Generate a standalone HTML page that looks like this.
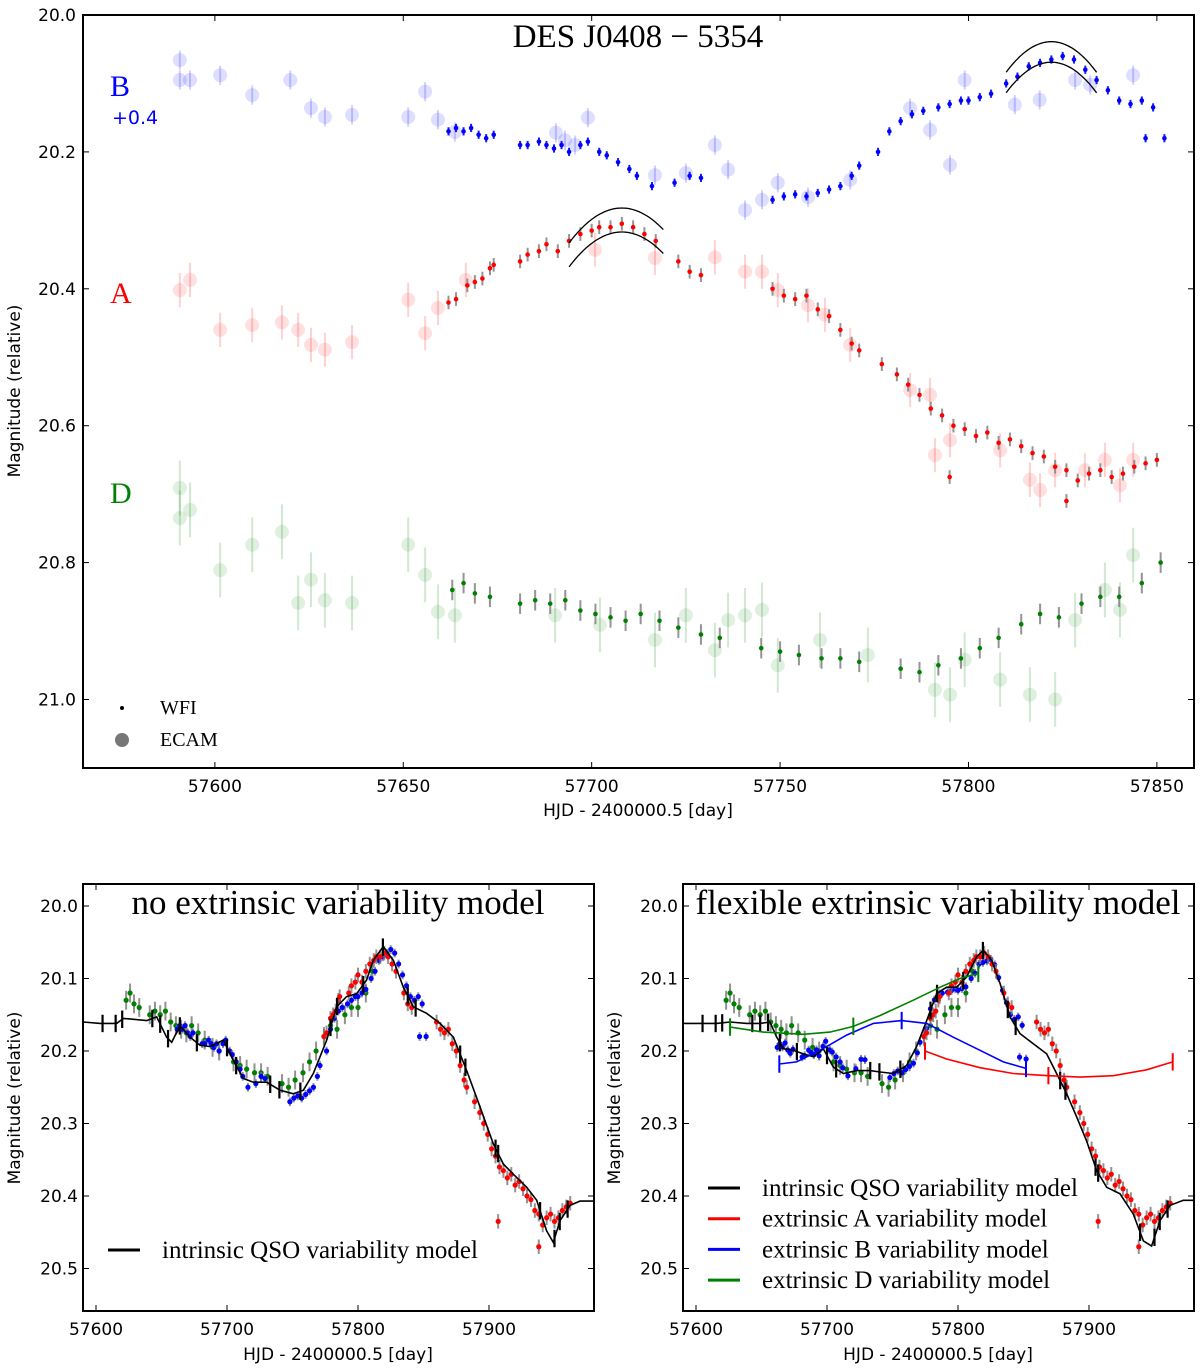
<!DOCTYPE html>
<html><head><meta charset="utf-8"><title>DES J0408-5354 light curves</title>
<style>
html,body{margin:0;padding:0;background:#fff;}
svg{display:block;}
.tk{font-family:"DejaVu Sans","Liberation Sans",sans-serif;font-size:17px;fill:#000;}
.sf{font-family:"Liberation Serif","DejaVu Serif",serif;fill:#000;}
</style></head>
<body>
<svg id="chart" width="1200" height="1369" viewBox="0 0 1200 1369" xmlns="http://www.w3.org/2000/svg">
<defs>
<clipPath id="clipTop"><rect x="83" y="15" width="1111" height="753"/></clipPath>
<clipPath id="clipL"><rect x="83" y="884" width="511" height="427"/></clipPath>
<clipPath id="clipR"><rect x="683" y="884" width="511" height="427"/></clipPath>
</defs>
<text class="sf" x="638" y="47" font-size="33" text-anchor="middle">DES J0408 − 5354</text>
<text class="sf" x="110" y="96" font-size="30" style="fill:#0000ff">B</text>
<text x="112" y="124" font-size="19" style="fill:#0000ff;font-family:'DejaVu Sans',sans-serif">+0.4</text>
<text class="sf" x="110" y="303" font-size="30" style="fill:#ff0000">A</text>
<text class="sf" x="110" y="503" font-size="30" style="fill:#008000">D</text>
<circle cx="122" cy="708" r="2" fill="#000"/>
<text class="sf" x="160" y="714" font-size="20">WFI</text>
<circle cx="122" cy="740" r="7" fill="#777"/>
<text class="sf" x="160" y="746" font-size="20">ECAM</text>
<text class="tk" font-size="18" transform="translate(20,391) rotate(-90)" text-anchor="middle">Magnitude (relative)</text>
<text class="tk" font-size="18" x="638" y="816" text-anchor="middle">HJD - 2400000.5 [day]</text>
<text class="sf" x="338" y="914" font-size="35" text-anchor="middle">no extrinsic variability model</text>
<text class="sf" x="938" y="914" font-size="35" text-anchor="middle">flexible extrinsic variability model</text>
<text class="tk" font-size="18" transform="translate(20,1098) rotate(-90)" text-anchor="middle">Magnitude (relative)</text>
<text class="tk" font-size="18" transform="translate(620,1098) rotate(-90)" text-anchor="middle">Magnitude (relative)</text>
<text class="tk" font-size="18" x="338" y="1360" text-anchor="middle">HJD - 2400000.5 [day]</text>
<text class="tk" font-size="18" x="938" y="1360" text-anchor="middle">HJD - 2400000.5 [day]</text>
</svg>
<script>
// ---------- TOP PANEL DATA ----------
const bWfi=[[57662,20.17],[57664,20.165],[57666,20.17],[57668,20.165],[57670,20.175],[57672,20.18],[57674,20.175],[57681,20.19],[57683,20.19],[57686,20.185],[57688,20.19],[57690,20.195],[57692,20.19],[57694,20.2],[57697,20.19],[57699,20.185],[57702,20.2],[57704,20.205],[57707,20.215],[57710,20.225],[57712,20.235],[57716,20.25],[57722,20.245],[57726,20.235],[57729,20.238],[57748,20.27],[57751,20.265],[57754,20.262],[57757,20.265],[57760,20.26],[57763,20.255],[57766,20.25],[57769,20.235],[57771,20.22],[57776,20.2],[57779,20.17],[57782,20.155],[57785,20.145],[57788,20.14],[57792,20.135],[57795,20.13],[57798,20.125],[57800,20.125],[57803,20.12],[57806,20.115],[57810,20.1],[57813,20.09],[57816,20.075],[57819,20.07],[57822,20.065],[57825,20.06],[57828,20.065],[57831,20.08],[57834,20.095],[57837,20.11],[57840,20.125],[57843,20.13],[57846,20.125],[57849,20.135],[57847,20.18],[57852,20.18]];
const aWfi=[[57662,20.42],[57664,20.415],[57667,20.395],[57669,20.39],[57671,20.385],[57673,20.37],[57674,20.365],[57681,20.36],[57683,20.35],[57686,20.345],[57688,20.335],[57691,20.345],[57694,20.33],[57697,20.32],[57700,20.315],[57702,20.31],[57705,20.31],[57708,20.305],[57711,20.31],[57714,20.32],[57717,20.33],[57723,20.36],[57726,20.375],[57729,20.38],[57748,20.4],[57751,20.41],[57754,20.415],[57757,20.41],[57760,20.43],[57763,20.44],[57766,20.46],[57769,20.48],[57771,20.49],[57777,20.51],[57781,20.525],[57784,20.54],[57787,20.555],[57790,20.575],[57793,20.585],[57796,20.6],[57799,20.605],[57802,20.615],[57805,20.61],[57808,20.625],[57811,20.62],[57814,20.63],[57817,20.64],[57820,20.645],[57823,20.66],[57826,20.665],[57829,20.68],[57832,20.67],[57835,20.665],[57838,20.675],[57841,20.67],[57844,20.66],[57847,20.655],[57850,20.65],[57795,20.675],[57826,20.71]];
const dWfi=[[57663,20.84],[57666,20.83],[57669,20.845],[57673,20.85],[57681,20.86],[57685,20.855],[57689,20.86],[57693,20.855],[57697,20.87],[57701,20.875],[57705,20.88],[57709,20.885],[57713,20.875],[57718,20.885],[57723,20.895],[57729,20.905],[57734,20.91],[57745,20.925],[57750,20.93],[57755,20.935],[57761,20.94],[57766,20.94],[57771,20.945],[57782,20.955],[57787,20.96],[57792,20.95],[57798,20.94],[57803,20.925],[57808,20.91],[57814,20.89],[57819,20.875],[57824,20.88],[57830,20.86],[57835,20.85],[57840,20.85],[57846,20.83],[57851,20.80]];
const bEcam=[[57590.7,20.066],[57590.7,20.095],[57593.4,20.095],[57601.4,20.088],[57609.9,20.117],[57620,20.095],[57625.5,20.136],[57629.2,20.149],[57636.4,20.146],[57651.3,20.149],[57655.8,20.112],[57659.2,20.153],[57663.7,20.171],[57690.5,20.172],[57692.9,20.183],[57695.6,20.19],[57699,20.15],[57716.8,20.234],[57725,20.231],[57732.7,20.19],[57736.2,20.226],[57740.7,20.285],[57745.2,20.27],[57749.4,20.245],[57757.4,20.266],[57768.6,20.241],[57784.5,20.136],[57789.8,20.168],[57795.1,20.219],[57799,20.095],[57812.3,20.131],[57818.9,20.124],[57828.3,20.095],[57832.3,20.102],[57843.7,20.088]];
const aEcam=[[57590.7,20.402],[57593.4,20.387],[57601.4,20.46],[57609.9,20.453],[57617.8,20.449],[57622.1,20.46],[57625.5,20.482],[57629.2,20.489],[57636.4,20.478],[57651.3,20.416],[57655.8,20.465],[57659.2,20.428],[57666.6,20.387],[57700.9,20.343],[57716.8,20.355],[57732.7,20.354],[57740.7,20.375],[57745.2,20.375],[57749.4,20.402],[57757.4,20.424],[57761.9,20.438],[57768.6,20.482],[57784.5,20.548],[57789.8,20.555],[57791.1,20.643],[57795.1,20.621],[57808.4,20.636],[57816.3,20.679],[57819,20.694],[57823,20.665],[57830.9,20.665],[57836.2,20.65],[57840.2,20.687],[57843.7,20.65]];
const dEcam=[[57590.7,20.691],[57590.7,20.735],[57593.4,20.723],[57601.4,20.811],[57609.9,20.774],[57617.8,20.755],[57622.1,20.859],[57625.5,20.825],[57629.2,20.855],[57636.4,20.859],[57651.3,20.774],[57655.8,20.818],[57659.2,20.872],[57663.7,20.877],[57690.3,20.877],[57702.2,20.891],[57716.8,20.913],[57725,20.877],[57732.7,20.928],[57736.2,20.884],[57740.7,20.877],[57745.2,20.869],[57749.4,20.95],[57760.6,20.913],[57773.3,20.935],[57791.1,20.986],[57795.1,20.993],[57799,20.942],[57808.4,20.971],[57816.3,20.993],[57823,21.0],[57828.3,20.884],[57836.2,20.84],[57840.2,20.869],[57843.7,20.789]];
// model arcs: [vertexDay, vertexMag, startDay, endDay, curvature]
const arcA=[[57708,20.282,57694,57719,0.00026],[57708,20.317,57694,57719,0.00026]];
const arcB=[[57822,20.039,57810,57834,0.00031],[57822,20.069,57810,57834,0.00031]];
const topXTicks=[57600,57650,57700,57750,57800,57850];
const topYTicks=[20.0,20.2,20.4,20.6,20.8,21.0];
// ---------- BOTTOM PANEL DATA ----------
const shiftA=[112,-0.24];
const shiftB=[0,0];
const shiftD=[-40,-0.71];
const refB=20.193;
const modelLeft=[[57590.3,20.160],[57603.1,20.162],[57615.8,20.162],[57620.9,20.155],[57638.7,20.158],[57646.3,20.153],[57653.9,20.181],[57657.8,20.188],[57664.1,20.165],[57671.8,20.181],[57679.4,20.192],[57687,20.194],[57697.2,20.185],[57704.8,20.213],[57712.5,20.238],[57720.1,20.243],[57730.3,20.243],[57740.5,20.254],[57750.6,20.259],[57758.3,20.254],[57765.9,20.231],[57776.1,20.185],[57783.7,20.139],[57791.3,20.125],[57799,20.121],[57806.6,20.102],[57811.7,20.075],[57819.3,20.056],[57827,20.075],[57834.6,20.112],[57842.2,20.139],[57852.4,20.148],[57862.6,20.162],[57872.8,20.181],[57883,20.227],[57893.1,20.277],[57903.3,20.328],[57911,20.356],[57918.6,20.370],[57928.8,20.388],[57936.4,20.406],[57944,20.448],[57949.1,20.464],[57954.2,20.434],[57961.8,20.413],[57969.5,20.407],[57979.6,20.407]];
const modelRight=[[57590.3,20.162],[57603.1,20.162],[57615.8,20.162],[57626,20.160],[57638.7,20.162],[57648.9,20.162],[57656.5,20.160],[57661.6,20.181],[57666.7,20.197],[57674.3,20.199],[57681.9,20.204],[57689.6,20.208],[57697.2,20.197],[57704.8,20.222],[57712.5,20.231],[57722.6,20.227],[57732.8,20.227],[57740.5,20.229],[57750.6,20.231],[57760.8,20.220],[57768.4,20.194],[57776.1,20.158],[57783.7,20.121],[57791.3,20.112],[57799,20.112],[57806.6,20.098],[57814.2,20.070],[57819.3,20.061],[57825.7,20.075],[57832.1,20.107],[57839.7,20.153],[57847.3,20.176],[57857.5,20.190],[57867.7,20.204],[57875.3,20.231],[57883,20.259],[57890.6,20.291],[57898.2,20.324],[57905.9,20.365],[57913.5,20.388],[57923.7,20.397],[57933.8,20.425],[57941.5,20.462],[57947.8,20.469],[57954.2,20.434],[57961.8,20.413],[57972,20.406],[57979.6,20.406]];
const modelTickDays=[57590,57605,57615,57620,57643,57649,57655,57664,57677,57700,57707,57733,57740,57756,57779,57784,57804,57819,57838,57844,57878,57882,57905,57907,57939,57950,57954,57960];
const extD=[[57626,20.167],[57651.4,20.174],[57681.9,20.177],[57702.3,20.174],[57720.1,20.166],[57740.5,20.151],[57765.9,20.130],[57786.3,20.112],[57801.5,20.100],[57815.5,20.093]];
const extB=[[57663.6,20.218],[57676.8,20.215],[57694.7,20.199],[57715,20.178],[57735.4,20.162],[57757,20.158],[57776.1,20.162],[57796.4,20.181],[57816.8,20.199],[57834.6,20.215],[57851.9,20.224]];
const extA=[[57774.8,20.2],[57791.3,20.211],[57816.8,20.223],[57842.2,20.231],[57869,20.234],[57893.1,20.236],[57918.6,20.234],[57944,20.226],[57963.9,20.215]];
const extDBars=[57626,57720.1,57815.5];
const extBBars=[57663.6,57757,57851.9];
const extABars=[57774.8,57869,57963.9];
const botXTicks=[57600,57700,57800,57900];
const botYTicks=[20.0,20.1,20.2,20.3,20.4,20.5];

// ---------- helpers ----------
const NS='http://www.w3.org/2000/svg';
const svg=document.getElementById('chart');
function mk(tag,attrs,parent){const e=document.createElementNS(NS,tag);for(const k in attrs)e.setAttribute(k,attrs[k]);(parent||svg).appendChild(e);return e;}
const tX=d=>83+(d-57565)*3.768, tY=m=>15+(m-20)*684.5;
const lX=d=>96+(d-57600)*1.31, rX=d=>696+(d-57600)*1.31, bY=m=>906+(m-20)*725;
function interp(arr,d){for(let i=0;i<arr.length-1;i++){if(d>=arr[i][0]&&d<=arr[i+1][0]){const t=(d-arr[i][0])/(arr[i+1][0]-arr[i][0]);return arr[i][1]+t*(arr[i+1][1]-arr[i][1]);}}return d<arr[0][0]?arr[0][1]:arr[arr.length-1][1];}

function frame(x0,y0,x1,y1,name,xt,yt,X,Y,labelX){
  const g=mk('g',{});
  
  
  const r=mk('rect',{x:x0,y:y0,width:x1-x0,height:y1-y0,fill:'none',stroke:'#000','stroke-width':2},g);
  
  
  xt.forEach(v=>{const x=X(v);
    const t1=mk('line',{x1:x,x2:x,y1:y1,y2:y1-6,stroke:'#000','stroke-width':1},g);
    
    
    const t2=mk('line',{x1:x,x2:x,y1:y0,y2:y0+6,stroke:'#000','stroke-width':1},g);
    
    
    const tl=mk('text',{x:x,y:y1+24,'text-anchor':'middle',class:'tk'},g);tl.textContent=String(v);
    
    
  });
  yt.forEach(v=>{const y=Y(v);
    const t1=mk('line',{x1:x0,x2:x0+6,y1:y,y2:y,stroke:'#000','stroke-width':1},g);
    
    
    const t2=mk('line',{x1:x1,x2:x1-6,y1:y,y2:y,stroke:'#000','stroke-width':1},g);
    
    
    const tl=mk('text',{x:labelX,y:y+6,'text-anchor':'end',class:'tk'},g);tl.textContent=v.toFixed(1);
    
    
  });
}
function points(arr,X,Y,color,r,err,errColor,errOp,fillOp,clip,name,dd,dm,corr){
  const g=mk('g',{'clip-path':'url(#'+clip+')'});
  
  
  arr.forEach(p=>{const day=p[0]+dd, m=p[1]+dm+(corr?corr(day):0);
    const x=X(day),y=Y(m);
    const e=mk('line',{x1:x,x2:x,y1:Y(m-err),y2:Y(m+err),stroke:errColor,'stroke-width':2,'stroke-opacity':errOp},g);
    
    
    const c=mk('circle',{cx:x,cy:y,r:r,fill:color,'fill-opacity':fillOp},g);
    
    
  });
}
function arc(p,name){
  let d='';for(let t=p[2];t<=p[3]+0.01;t+=0.5){const m=p[1]+p[4]*(t-p[0])*(t-p[0]);d+=(d?'L':'M')+tX(t).toFixed(1)+','+tY(m).toFixed(1);}
  const e=mk('path',{d:d,fill:'none',stroke:'#000','stroke-width':1.3,'clip-path':'url(#clipTop)'});
  
  
}
function curve(arr,X,clip,color,w,name){
  const d=arr.map((p,i)=>(i?'L':'M')+X(p[0]).toFixed(1)+','+bY(p[1]).toFixed(1)).join('');
  const e=mk('path',{d:d,fill:'none',stroke:color,'stroke-width':w,'clip-path':'url(#'+clip+')'});
  
  
}
function bars(days,arr,X,clip,color,half,w,name){
  days.forEach(dv=>{const x=X(dv),m=interp(arr,dv);
    const e=mk('line',{x1:x,x2:x,y1:bY(m-half),y2:bY(m+half),stroke:color,'stroke-width':w,'clip-path':'url(#'+clip+')'});
    
    
  });
}

// ---------- TOP PANEL ----------
points(bEcam,tX,tY,'#0000ff',7,0.014,'#0000ff',0.18,0.13,'clipTop','b-ecam-points',0,0);
points(aEcam,tX,tY,'#ff0000',7,0.025,'#ff0000',0.18,0.12,'clipTop','a-ecam-points',0,0);
points(dEcam,tX,tY,'#008000',7,0.04,'#008000',0.18,0.12,'clipTop','d-ecam-points',0,0);
points(bWfi,tX,tY,'#0000ff',2.3,0.006,'#0000ff',0.9,1,'clipTop','b-wfi-points',0,0);
points(aWfi,tX,tY,'#ff0000',2.3,0.01,'#888888',0.9,1,'clipTop','a-wfi-points',0,0);
points(dWfi,tX,tY,'#008000',2.3,0.015,'#888888',0.9,1,'clipTop','d-wfi-points',0,0);
arcA.forEach(p=>arc(p,'a-model-arc'));
arcB.forEach(p=>arc(p,'b-model-arc'));
frame(83,15,1194,768,'top-panel',topXTicks,topYTicks,tX,tY,76);

// ---------- BOTTOM PANELS ----------
[['L',lX,modelLeft,'left-panel',78],['R',rX,modelRight,'right-panel',678]].forEach(cfg=>{
  const [s,X,model,name,lab]=cfg, clip='clip'+s;
  const corrB = s==='R' ? (d=>interp(extB,d)-refB) : null;
  points(dWfi,X,bY,'#008000',2.6,0.013,'#777777',0.8,1,clip,name+'-d-points',shiftD[0],shiftD[1],null);
  points(bWfi,X,bY,'#0000ff',2.6,0.006,'#777777',0.8,1,clip,name+'-b-points',shiftB[0],shiftB[1],corrB);
  points(aWfi,X,bY,'#ff0000',2.6,0.01,'#777777',0.8,1,clip,name+'-a-points',shiftA[0],shiftA[1],null);
  curve(model,X,clip,'#000',1.6,name+'-intrinsic-model');
  bars(modelTickDays,model,X,clip,'#000',0.012,2.2,'model-error-bar');
  if(s==='R'){
    curve(extD,X,clip,'#008000',1.6,'extrinsic-d-model');
    curve(extB,X,clip,'#0000ff',1.6,'extrinsic-b-model');
    curve(extA,X,clip,'#ff0000',1.6,'extrinsic-a-model');
    bars(extDBars,extD,X,clip,'#008000',0.012,2,'extrinsic-d-error-bar');
    bars(extBBars,extB,X,clip,'#0000ff',0.012,2,'extrinsic-b-error-bar');
    bars(extABars,extA,X,clip,'#ff0000',0.012,2,'extrinsic-a-error-bar');
  }
  frame(s==='L'?83:683,884,s==='L'?594:1194,1311,name,botXTicks,botYTicks,X,bY,lab);
});

// ---------- BOTTOM LEGENDS ----------
const legL=mk('g',{});


const ll=mk('line',{x1:108,x2:140,y1:1250,y2:1250,stroke:'#000','stroke-width':3},legL);


const lt=mk('text',{x:162,y:1258,class:'sf','font-size':25},legL);lt.textContent='intrinsic QSO variability model';



const legNames=['intrinsic QSO variability model','extrinsic A variability model','extrinsic B variability model','extrinsic D variability model'];
const legColors=['#000','#ff0000','#0000ff','#008000'];
const legR=mk('g',{});


legNames.forEach((n,i)=>{const y=1188+i*30.7;
  const l=mk('line',{x1:708,x2:740,y1:y,y2:y,stroke:legColors[i],'stroke-width':3},legR);
  
  
  const t=mk('text',{x:762,y:y+8,class:'sf','font-size':25},legR);t.textContent=n;
  
  
});
</script>
</body></html>
